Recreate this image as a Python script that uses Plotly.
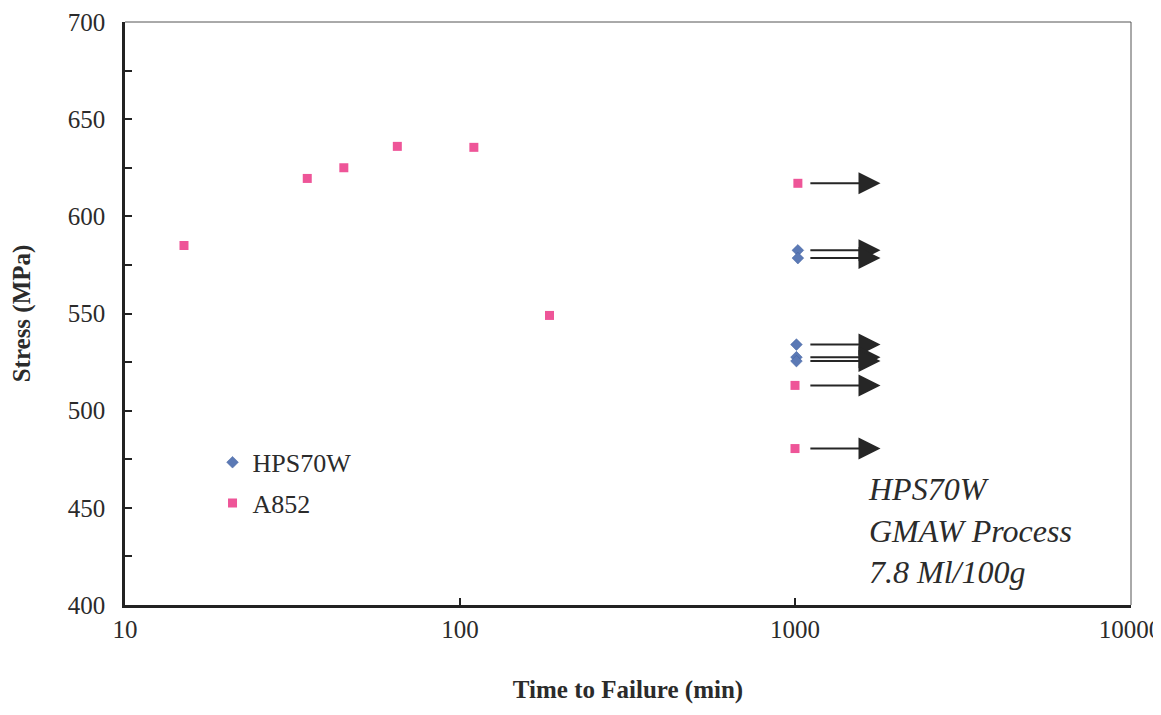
import math
import plotly.graph_objects as go

# ---- data ----
a852_time = [15, 35, 45, 65, 110, 185, 1020, 1000, 1000]
a852_stress = [585, 619.5, 625, 636, 635.5, 549, 617, 513, 480.5]
hps_time = [1020, 1020, 1010, 1010, 1010]
hps_stress = [582.5, 578.5, 534, 527.5, 525.5]
runout_time = 1000  # specimens that reached this time without failure
x_tickvals = [10, 100, 1000, 10000]
x_ticktext = ["10", "100", "1000", "10000"]
note_lines = ["HPS70W", "GMAW Process", "7.8 Ml/100g"]

SERIF = "Liberation Serif, Times New Roman, serif"
TXT = "#2b2b2b"

fig = go.Figure()
fig.add_trace(go.Scatter(
    x=hps_time, y=hps_stress, mode="markers", name="HPS70W",
    legendgroup="g1",
    marker=dict(symbol="diamond", size=9, color="#5b79b5",
                line=dict(width=0.5, color="#3f5f9f"))))
fig.add_trace(go.Scatter(
    x=a852_time, y=a852_stress, mode="markers", name="A852",
    legendgroup="g2",
    marker=dict(symbol="square", size=9, color="#ee5598")))

# run-out arrows for every specimen that reached the run-out time
for t, s in list(zip(hps_time, hps_stress)) + list(zip(a852_time, a852_stress)):
    if t >= runout_time:
        fig.add_annotation(
            x=math.log10(runout_time * 1.8), y=s,
            ax=math.log10(runout_time * 1.1), ay=s,
            xref="x", yref="y", axref="x", ayref="y",
            text="", showarrow=True, arrowhead=2, arrowsize=2.2,
            arrowwidth=2, arrowcolor="#262626")

fig.add_annotation(
    xref="paper", yref="paper", x=0.737, y=0.233,
    xanchor="left", yanchor="top", align="left", showarrow=False,
    text="<br>".join(note_lines),
    font=dict(family=SERIF, size=32, color=TXT, style="italic"))

# thin top / right frame
fig.add_shape(type="line", xref="paper", yref="paper", x0=0, x1=1, y0=1, y1=1,
              line=dict(color="#555", width=1))
fig.add_shape(type="line", xref="paper", yref="paper", x0=1, x1=1, y0=0, y1=1,
              line=dict(color="#555", width=1))

fig.update_xaxes(
    type="log", range=[1, 4.003], tickvals=x_tickvals, ticktext=x_ticktext,
    ticks="inside", ticklen=7, tickwidth=1.5, tickcolor="#222",
    showline=True, linecolor="#222", linewidth=2.5, showgrid=False, zeroline=False,
    tickfont=dict(family=SERIF, size=25, color=TXT),
    title=dict(text="<b>Time to Failure (min)</b>", standoff=39,
               font=dict(family=SERIF, size=25, color=TXT)))
fig.update_yaxes(
    range=[400, 700], dtick=50, tick0=400,
    ticks="inside", ticklen=7, tickwidth=1.5, tickcolor="#222",
    minor=dict(dtick=25, ticks="inside", ticklen=7, tickwidth=1.5, tickcolor="#222"),
    showline=True, linecolor="#222", linewidth=2.5, showgrid=False, zeroline=False,
    ticklabelstandoff=12,
    tickfont=dict(family=SERIF, size=25, color=TXT),
    title=dict(text="<b>Stress (MPa)</b>", standoff=34,
               font=dict(family=SERIF, size=25, color=TXT)))

fig.update_layout(
    width=1161, height=715,
    margin=dict(l=117, r=38, t=14, b=118, autoexpand=False),
    paper_bgcolor="white", plot_bgcolor="white",
    showlegend=True,
    legend=dict(x=0.087, y=0.285, xanchor="left", yanchor="top",
                bgcolor="rgba(0,0,0,0)", tracegroupgap=4,
                font=dict(family=SERIF, size=26, color=TXT)),
)

fig.write_html("out.html")
